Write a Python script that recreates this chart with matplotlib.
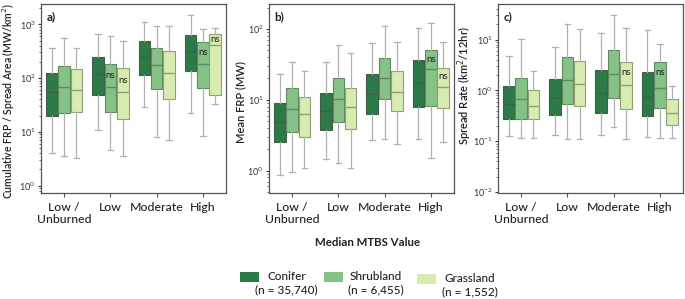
import matplotlib
matplotlib.use("Agg")
import matplotlib.pyplot as plt
from matplotlib.patches import Rectangle

plt.rcParams['font.family'] = ['Lato', 'DejaVu Sans']

categories = ["Low /\nUnburned", "Low", "Moderate", "High"]
groups = ["Conifer", "Shrubland", "Grassland"]
group_n = ["(n = 35,740)", "(n = 6,455)", "(n = 1,552)"]
colors = ["#2b7a47", "#86c187", "#d8ebb0"]
edge_colors = ["#3f5f47", "#5f8a60", "#8f9f78"]

# each stat: [whislo, q1, median, q3, whishi] per category, per group
frp_area = {
    "Conifer":   [[4.0, 19.3, 56, 124, 367], [10.6, 49, 117, 246, 650], [29, 115, 250, 482, 1120], [22, 133, 314, 641, 1490]],
    "Shrubland": [[3.6, 22.6, 68, 165, 565], [4.5, 23, 69, 185, 615], [7.9, 62, 175, 367, 918], [8.3, 65, 185, 469, 818]],
    "Grassland": [[3.2, 23, 59, 147, 367], [3.5, 17.5, 56, 153, 490], [7.1, 41, 122, 318, 945], [33, 47.5, 418, 670, 866]],
}
mean_frp = {
    "Conifer":   [[0.87, 2.5, 4.9, 8.9, 23], [1.48, 3.8, 6.9, 12.4, 34], [2.7, 6.4, 12.2, 23, 64], [2.8, 7.8, 17.2, 37, 102]],
    "Shrubland": [[0.97, 3.5, 7.3, 14.6, 34], [1.27, 4.8, 10.3, 20.6, 59], [2.8, 10.2, 20.4, 39.4, 111], [1.5, 8.2, 27, 51, 123]],
    "Grassland": [[1.1, 3.0, 6.4, 10.8, 25.6], [1.1, 3.9, 8.0, 14.9, 46], [2.4, 6.9, 13.1, 25.9, 66], [2.5, 7.6, 15.2, 28.5, 65]],
}
spread_rate = {
    "Conifer":   [[0.127, 0.27, 0.55, 1.2, 4.7], [0.133, 0.33, 0.71, 1.7, 7.3], [0.135, 0.354, 0.89, 2.54, 13.7], [0.12, 0.31, 0.73, 2.3, 15.5]],
    "Shrubland": [[0.115, 0.27, 0.69, 1.75, 10.5], [0.113, 0.53, 1.57, 4.6, 20.6], [0.19, 0.72, 2.06, 6.1, 30], [0.116, 0.46, 1.1, 3.65, 8.2]],
    "Grassland": [[0.115, 0.27, 0.5, 1.02, 2.43], [0.113, 0.485, 1.31, 3.76, 16], [0.113, 0.44, 1.25, 3.7, 17], [0.115, 0.21, 0.36, 0.67, 1.22]],
}
# "ns" markers: (category index, group index, offset above median in points)
ns_a = [(1, 1, 8), (1, 2, 8), (3, 1, 8), (3, 2, 3.8)]
ns_b = [(3, 1, 7.2), (3, 2, 7.2)]
ns_c = [(2, 2, 9.4), (3, 1, 11.5)]

panels = [
    ("a)", frp_area, "Cumulative FRP / Spread Area (MW/km$^2$)", (0.74, 2340), ns_a, (-0.138, 0.485), 7.6),
    ("b)", mean_frp, "Mean FRP (MW)", (0.49, 222), ns_b, (-0.124, 0.48), 8),
    ("c)", spread_rate, "Spread Rate (km$^2$/12hr)", (0.0098, 49), ns_c, (-0.13, 0.57), 8),
]
lefts = [0.0599, 0.3927, 0.727]

fig = plt.figure(figsize=(6.85, 2.99), dpi=100)
offsets = [-0.267, 0.0, 0.267]
bw = 0.25
for (lab, data, ylab, ylim, ns, lpos, lfs), left in zip(panels, lefts):
    ax = fig.add_axes([left, 0.356, 0.270, 0.629])
    for gi, g in enumerate(groups):
        stats = []
        for ci in range(len(categories)):
            lo, q1, med, q3, hi = data[g][ci]
            stats.append(dict(whislo=lo, q1=q1, med=med, q3=q3, whishi=hi, fliers=[]))
        pos = [ci + offsets[gi] for ci in range(len(categories))]
        ax.bxp(stats, positions=pos, widths=bw, patch_artist=True, showfliers=False,
               boxprops=dict(facecolor=colors[gi], edgecolor=edge_colors[gi], linewidth=0.8),
               medianprops=dict(color=edge_colors[gi], linewidth=1.0),
               whiskerprops=dict(color="#b0b0b0", linewidth=0.9),
               capprops=dict(color="#b0b0b0", linewidth=0.9), capwidths=0.12)
    for ci, gi, off in ns:
        med = data[groups[gi]][ci][2]
        ax.annotate("ns", (ci + offsets[gi], med), xytext=(0, off), textcoords="offset points",
                    ha="center", va="center", fontsize=7, color="#222222")
    ax.set_yscale("log")
    ax.set_ylim(*ylim)
    ax.set_xlim(-0.5, len(categories) - 0.5)
    ax.set_xticks(range(len(categories)))
    ax.set_xticklabels(categories, fontsize=8.8, color="#222222", fontweight="medium")
    ax.tick_params(axis="y", which="major", labelsize=6.5, colors="#333333", length=2.5, pad=1.5)
    ax.tick_params(axis="y", which="minor", length=1.5, color="#555555")
    ax.tick_params(axis="x", length=3, color="#555555")
    ax.set_ylabel(ylab, fontsize=lfs, color="#222222", fontweight="semibold")
    ax.yaxis.set_label_coords(*lpos)
    ax.text(0.03, 0.965, lab, transform=ax.transAxes, fontsize=8.5, fontweight="bold",
            va="top", ha="left", color="#222222")
    for s in ax.spines.values():
        s.set_color("#555555")
        s.set_linewidth(0.9)

fig.text(0.537, 0.19, "Median MTBS Value", ha="center", va="center", fontsize=8.3, fontweight="bold", color="#222222")

patch_x = [0.3504, 0.473, 0.6088]
patch_y = [0.0569, 0.0569, 0.050]
name_x = [0.391, 0.511, 0.6496]
name_y = [0.0736, 0.0736, 0.0669]
n_x = [0.4175, 0.549, 0.686]
n_y = [0.0301, 0.0301, 0.0234]
for gi, g in enumerate(groups):
    fig.patches.append(Rectangle((patch_x[gi], patch_y[gi]), 0.0277, 0.0334, transform=fig.transFigure,
                                 facecolor=colors[gi], edgecolor="none"))
    fig.text(name_x[gi], name_y[gi], g, ha="left", va="center", fontsize=8.5, color="#222222", fontweight="medium")
    fig.text(n_x[gi], n_y[gi], group_n[gi], ha="center", va="center", fontsize=8.5, color="#222222", fontweight="medium")

fig.savefig("out.png", dpi=100)
